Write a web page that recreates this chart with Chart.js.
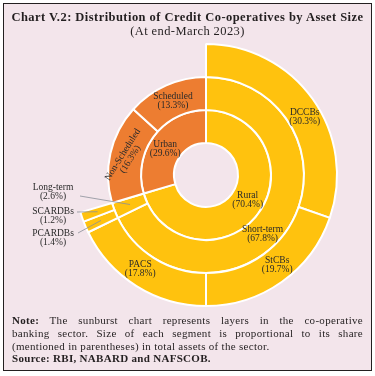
<!DOCTYPE html>
<html>
<head>
<meta charset="utf-8">
<script src="https://cdn.jsdelivr.net/npm/chart.js@4"></script>
<style>
  html, body { margin: 0; padding: 0; background: #fff; }
  #page { position: relative; width: 375px; height: 376px; overflow: hidden; }
  #frame {
    position: absolute; left: 3px; top: 3px; width: 367px; height: 366px;
    border: 1px solid #231f20; background: #f3e5eb;
  }
  #chart { position: absolute; left: 0; top: 0; }
  .title {
    position: absolute; left: 0; width: 375px; text-align: center;
    font-family: "Liberation Serif", serif; color: #231f20; white-space: nowrap;
  }
  #t1 { top: 10px; font-size: 12.5px; font-weight: bold; letter-spacing: 0.45px; }
  #t2 { top: 24px; font-size: 12.5px; letter-spacing: 0.4px; }
  #note {
    position: absolute; left: 12px; width: 351px; top: 314px;
    font-family: "Liberation Serif", serif; font-size: 11px; line-height: 12.8px;
    letter-spacing: 0.3px; color: #231f20;
  }
  #note .j { display: block; text-align: justify; text-align-last: justify; white-space: nowrap; }
  #note .l { display: block; white-space: nowrap; }
</style>
</head>
<body>
<div id="page">
  <div id="frame"></div>
  <canvas id="chart" width="375" height="376"></canvas>
  <div class="title" id="t1">Chart V.2: Distribution of Credit Co-operatives by Asset Size</div>
  <div class="title" id="t2">(At end-March 2023)</div>
  <div id="note">
    <span class="j"><b>Note:</b> The sunburst chart represents layers in the co-operative</span>
    <span class="j">banking sector. Size of each segment is proportional to its share</span>
    <span class="l">(mentioned in parentheses) in total assets of the sector.</span>
    <span class="l"><b>Source: RBI, NABARD and NAFSCOB.</b></span>
  </div>
</div>
<script>
// 外側: 銘柄種別 (最後は都市部の空白)
var outerLabels = ["DCCBs", "StCBs", "PACS", "PCARDBs", "SCARDBs", ""];
var outerValues = [30.3, 19.7, 17.8, 1.4, 1.2, 29.6];
// 中間
var middleLabels = ["Short-term", "Long-term", "Non-Scheduled", "Scheduled"];
var middleValues = [67.8, 2.6, 16.3, 13.3];
// 内側
var innerLabels = ["Rural", "Urban"];
var innerValues = [70.4, 29.6];

var YELLOW = "#ffc20e";
var ORANGE = "#ed7d31";

(function () {
  var labelPlugin = {
    id: "sunburstLabels",
    afterDatasetsDraw: function (chart, args, opts) {
      var ctx = chart.ctx;
      ctx.save();
      ctx.font = "9.5px 'Liberation Serif', serif";
      ctx.fillStyle = "#2a2a2a";
      ctx.textAlign = "center";
      ctx.textBaseline = "middle";
      chart.data.datasets.forEach(function (ds, di) {
        var meta = chart.getDatasetMeta(di);
        meta.data.forEach(function (arc, i) {
          var name = ds.names[i];
          if (!name) return;
          var pct = "(" + ds.data[i].toFixed(1) + "%)";
          var p = arc.getProps(["x", "y", "startAngle", "endAngle", "innerRadius", "outerRadius"], true);
          var a = (p.startAngle + p.endAngle) / 2 + ((opts.nudge[name] || 0) * Math.PI) / 180;
          var r = (p.innerRadius + p.outerRadius) / 2;
          var cx = p.x + Math.cos(a) * r;
          var cy = p.y + Math.sin(a) * r;
          var ext = opts.external[name];
          if (ext) {
            // 細いセグメントは外に出して引き出し線
            ctx.strokeStyle = "#8a8f99";
            ctx.lineWidth = 0.8;
            ctx.beginPath();
            ctx.moveTo(ext.sx, ext.sy);
            ctx.lineTo(cx, cy);
            ctx.stroke();
            ctx.fillText(name, ext.lx, ext.ly - 4.5);
            ctx.fillText(pct, ext.lx, ext.ly + 4.5);
            return;
          }
          ctx.save();
          ctx.translate(cx, cy);
          if (opts.rotate[name]) ctx.rotate((opts.rotate[name] * Math.PI) / 180);
          ctx.fillText(name, 0, -4.5);
          ctx.fillText(pct, 0, 4.5);
          ctx.restore();
        });
      });
      ctx.restore();
    },
  };

  function colorsFor(list, urbanFrom) {
    return list.map(function (v, i) {
      return i >= urbanFrom ? ORANGE : YELLOW;
    });
  }

  new Chart(document.getElementById("chart"), {
    type: "doughnut",
    data: {
      datasets: [
        {
          names: outerLabels,
          data: outerValues,
          backgroundColor: outerValues.map(function (v, i) {
            return outerLabels[i] ? YELLOW : "rgba(0,0,0,0)";
          }),
          borderWidth: outerValues.map(function (v, i) {
            return outerLabels[i] ? 2 : 0;
          }),
          borderColor: "#ffffff",
        },
        {
          names: middleLabels,
          data: middleValues,
          backgroundColor: colorsFor(middleValues, 2),
          borderWidth: 2,
          borderColor: "#ffffff",
        },
        {
          names: innerLabels,
          data: innerValues,
          backgroundColor: colorsFor(innerValues, 1),
          borderWidth: 2,
          borderColor: "#ffffff",
        },
      ],
    },
    options: {
      responsive: false,
      animation: false,
      radius: 131,
      cutout: "24.4%",
      layout: { padding: { left: 75, right: 38, top: 44, bottom: 70 } },
      plugins: {
        legend: { display: false },
        tooltip: { enabled: false },
        sunburstLabels: {
          nudge: { DCCBs: 5, "Short-term": 14, Rural: -6, Urban: -4, StCBs: -3, PACS: 3 },
          rotate: { "Non-Scheduled": -58 },
          external: {
            "Long-term": { lx: 53, ly: 192, sx: 80, sy: 196 },
            SCARDBs: { lx: 53, ly: 216, sx: 77, sy: 212 },
            PCARDBs: { lx: 53, ly: 238, sx: 78, sy: 233 },
          },
        },
      },
    },
    plugins: [labelPlugin],
  });
})();
</script>
</body>
</html>
